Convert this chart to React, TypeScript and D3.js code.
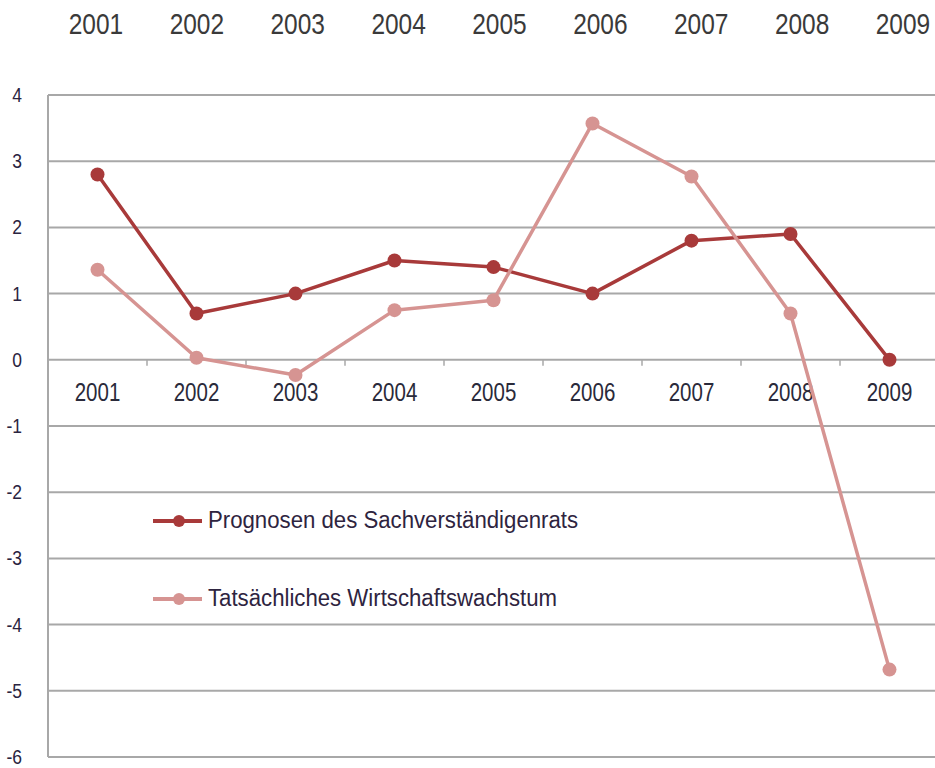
import React from 'react';
import * as d3 from 'd3';

const width = 935;
const height = 768;

const years = ['2001', '2002', '2003', '2004', '2005', '2006', '2007', '2008', '2009'];
const prognosen = [2.8, 0.7, 1.0, 1.5, 1.4, 1.0, 1.8, 1.9, 0.0];
const tatsaechlich = [1.36, 0.03, -0.23, 0.75, 0.9, 3.57, 2.77, 0.7, -4.68];
const yTicks = [4, 3, 2, 1, 0, -1, -2, -3, -4, -5, -6];

const seriesNames = ['Prognosen des Sachverständigenrats', 'Tatsächliches Wirtschaftswachstum'];
const seriesColors = ['#a83a3a', '#d69492'];

const plot = { left: 48, right: 939, top: 95, bottom: 757 };
const font = '"Liberation Sans", Arial, sans-serif';

export default function App() {
  const x = d3.scaleBand<string>().domain(years).range([plot.left, plot.right]);
  const y = d3.scaleLinear().domain([-6, 4]).range([plot.bottom, plot.top]);
  // the header row of years is spread a little wider than the plot
  const xTop = d3.scalePoint<string>().domain(years).range([96, 903]);
  const cx = (yr: string) => (x(yr) ?? 0) + x.bandwidth() / 2;

  const line = d3
    .line<number>()
    .x((_, i) => cx(years[i]))
    .y(d => y(d));

  const series = [prognosen, tatsaechlich];

  return (
    <svg
      width={width}
      height={height}
      style={{ position: 'absolute', left: 0, top: 0, background: '#fff' }}
      fontFamily={font}
    >
      {/* header years */}
      {years.map(yr => (
        <text
          key={'top' + yr}
          transform={`translate(${xTop(yr)}, 34) scale(1, 1.17)`}
          textAnchor="middle"
          fontSize={24.5}
          fill="#3a3a3a"
        >
          {yr}
        </text>
      ))}

      {/* grid */}
      {yTicks.map(t => (
        <g key={'g' + t}>
          <line x1={plot.left} x2={width} y1={y(t)} y2={y(t)} stroke="#a8a8a8" strokeWidth={2} />
          <text
            transform={`translate(22, ${y(t) + 7}) scale(1, 1.2)`}
            textAnchor="end"
            fontSize={17.5}
            fill="#2a2440"
          >
            {t}
          </text>
        </g>
      ))}
      <line x1={plot.left} x2={plot.left} y1={plot.top} y2={plot.bottom} stroke="#a8a8a8" strokeWidth={2} />

      {/* category ticks on the zero line */}
      {years.slice(1).map(yr => (
        <line key={'tk' + yr} x1={x(yr)} x2={x(yr)} y1={y(0)} y2={y(0) + 6} stroke="#a8a8a8" strokeWidth={1.5} />
      ))}
      {years.map(yr => (
        <text
          key={'lb' + yr}
          transform={`translate(${cx(yr)}, 401) scale(1, 1.22)`}
          textAnchor="middle"
          fontSize={20.5}
          fill="#2a2a3a"
        >
          {yr}
        </text>
      ))}

      {/* legend */}
      {seriesNames.map((name, i) => {
        const ly = 521 + i * 78;
        return (
          <g key={name}>
            <line x1={153} x2={202} y1={ly} y2={ly} stroke={seriesColors[i]} strokeWidth={4} />
            <circle cx={179} cy={ly} r={6} fill={seriesColors[i]} />
            <text
              transform={`translate(208, ${ly + 7}) scale(1, 1.08)`}
              fontSize={22.2}
              fill="#2e2440"
            >
              {name}
            </text>
          </g>
        );
      })}

      {/* series; the pink one is drawn last, it lies over the dark one */}
      {[0, 1].map(i => (
        <g key={'s' + i}>
          <path d={line(series[i]) ?? ''} fill="none" stroke={seriesColors[i]} strokeWidth={3.5} strokeLinejoin="round" />
          {series[i].map((v, j) => (
            <circle key={j} cx={cx(years[j])} cy={y(v)} r={7} fill={seriesColors[i]} />
          ))}
        </g>
      ))}
    </svg>
  );
}
